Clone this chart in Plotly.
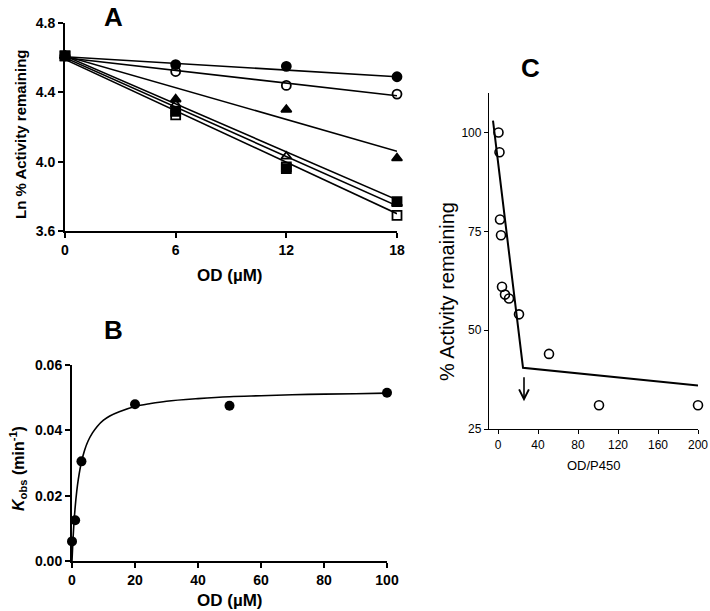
import plotly.graph_objects as go

W, H = 710, 611

# ---------------- Panel A data ----------------
a_x = [0, 6, 12, 18]
a_filled_circle = [4.61, 4.56, 4.55, 4.49]
a_open_circle = [4.61, 4.52, 4.44, 4.39]
a_filled_tri = [4.61, 4.36, 4.30, 4.02]
a_open_tri = [4.61, 4.33, 4.03, 3.76]
a_filled_sq = [4.61, 4.29, 3.96, 3.77]
a_open_sq = [4.61, 4.27, 3.97, 3.69]

a_fit_x = [0, 18]
a_fit_filled_circle = [4.605, 4.49]
a_fit_open_circle = [4.60, 4.38]
a_fit_filled_tri = [4.61, 4.06]
a_fit_open_tri = [4.61, 3.78]
a_fit_filled_sq = [4.60, 3.745]
a_fit_open_sq = [4.59, 3.70]

a_xticks = [0, 6, 12, 18]
a_yticks = [3.6, 4.0, 4.4, 4.8]

# ---------------- Panel B data ----------------
b_x = [0, 1, 3, 20, 50, 100]
b_y = [0.006, 0.0125, 0.0305, 0.048, 0.0475, 0.0515]
b_curve_x = [0, 0.3, 0.6, 1, 1.5, 2, 3, 4, 5, 6.5, 8, 10, 12, 15, 20, 25, 30, 40, 50, 60, 75, 90, 100]
b_curve_y = [0.0, 0.0063, 0.0113, 0.0164, 0.0213, 0.0250, 0.0303, 0.0339, 0.0365, 0.0392, 0.0412, 0.0431, 0.0444, 0.0457, 0.0473, 0.0482, 0.0489, 0.0497, 0.0503, 0.0506, 0.0510, 0.0512, 0.0514]
b_xticks = [0, 20, 40, 60, 80, 100]
b_yticks = [0.00, 0.02, 0.04, 0.06]

# ---------------- Panel C data ----------------
c_x = [0.5, 1.5, 2, 3, 4, 7, 11, 21, 51, 101, 200]
c_y = [100, 95, 78, 74, 61, 59, 58, 54, 44, 31, 31]
c_line_x = [-5, 25, 200]
c_line_y = [103, 40.5, 36]
c_arrow_x = 26
c_arrow_from = 38.5
c_arrow_to = 32
c_xticks = [0, 40, 80, 120, 160, 200]
c_yticks = [25, 50, 75, 100]

fig = go.Figure()

BOLD = "Liberation Sans, Arial, sans-serif"
NARROW = "Liberation Sans Narrow, Arial Narrow, Liberation Sans, Arial, sans-serif"

# ---- Panel A traces ----
for fy in [a_fit_filled_circle, a_fit_open_circle, a_fit_filled_tri,
           a_fit_open_tri, a_fit_filled_sq, a_fit_open_sq]:
    fig.add_trace(go.Scatter(x=a_fit_x, y=fy, mode="lines", xaxis="x", yaxis="y",
                             line=dict(color="black", width=1.6), showlegend=False,
                             hoverinfo="skip"))

a_series = [
    (a_filled_circle, "circle", "black"),
    (a_open_circle, "circle-open", "black"),
    (a_filled_tri, "triangle-up", "black"),
    (a_open_tri, "triangle-up-open", "black"),
    (a_open_sq, "square-open", "black"),
    (a_filled_sq, "square", "black"),
]
for ys, sym, col in a_series:
    fig.add_trace(go.Scatter(x=a_x, y=ys, mode="markers", xaxis="x", yaxis="y",
                             marker=dict(symbol=sym, size=9, color=col,
                                         line=dict(color="black", width=1.8)),
                             showlegend=False, cliponaxis=False))

# ---- Panel B traces ----
fig.add_trace(go.Scatter(x=b_curve_x, y=b_curve_y, mode="lines", xaxis="x2", yaxis="y2",
                         line=dict(color="black", width=1.6, shape="spline"),
                         showlegend=False))
fig.add_trace(go.Scatter(x=b_x, y=b_y, mode="markers", xaxis="x2", yaxis="y2",
                         marker=dict(symbol="circle", size=10, color="black"),
                         showlegend=False, cliponaxis=False))

# ---- Panel C traces ----
fig.add_trace(go.Scatter(x=c_line_x, y=c_line_y, mode="lines", xaxis="x3", yaxis="y3",
                         line=dict(color="black", width=2), showlegend=False))
fig.add_trace(go.Scatter(x=c_x, y=c_y, mode="markers", xaxis="x3", yaxis="y3",
                         marker=dict(symbol="circle-open", size=9, color="black",
                                     line=dict(color="black", width=1.6)),
                         showlegend=False, cliponaxis=False))

def px(x):
    return x / W

def py(y):
    return 1 - y / H

ab_axis = dict(showline=True, linecolor="black", linewidth=2, ticks="outside",
               ticklen=5, tickwidth=2, tickcolor="black", showgrid=False,
               zeroline=False, mirror=False, automargin=False,
               tickfont=dict(family=BOLD, size=14, color="black", weight="bold"))

c_axis = dict(showline=True, linecolor="black", linewidth=1.3, ticks="outside",
              ticklen=4, tickwidth=1.2, tickcolor="black", showgrid=False,
              zeroline=False, automargin=False,
              tickfont=dict(family=NARROW, size=12, color="black"))

fig.update_layout(
    width=W, height=H,
    margin=dict(l=0, r=0, t=0, b=0, pad=0),
    paper_bgcolor="white", plot_bgcolor="white",
    xaxis=dict(ab_axis, domain=[px(65), px(397)], range=[0, 18], tickvals=a_xticks,
               anchor="y"),
    yaxis=dict(ab_axis, domain=[py(231), py(23)], range=[3.6, 4.8], tickvals=a_yticks,
               tickformat=".1f", anchor="x"),
    xaxis2=dict(ab_axis, domain=[px(72), px(387)], range=[0, 100], tickvals=b_xticks,
                anchor="y2"),
    yaxis2=dict(ab_axis, domain=[py(561), py(365)], range=[0, 0.06], tickvals=b_yticks,
                tickformat=".2f", anchor="x2"),
    xaxis3=dict(c_axis, domain=[px(489), px(698)], range=[-9, 200],
                tickvals=c_xticks, anchor="y3"),
    yaxis3=dict(c_axis, domain=[py(429), py(93)], range=[25, 110],
                tickvals=c_yticks, anchor="x3"),
)

ann = []
def label(text, x, y, size, bold=True, angle=0, family=BOLD):
    ann.append(dict(text=text, x=px(x), y=py(y), xref="paper", yref="paper",
                    showarrow=False, textangle=angle, xanchor="center", yanchor="middle",
                    font=dict(family=family, size=size, color="black",
                              weight="bold" if bold else "normal")))

label("A", 113, 17, 26)
label("B", 113, 330, 26)
label("C", 530, 68, 26)
label("Ln % Activity remaining", 20, 135, 15, angle=-90)
label("OD (µM)", 230, 275, 17)
label("<i>K</i><sub>obs</sub> (min<sup>-1</sup>)", 18, 469, 16, angle=-90)
label("OD (µM)", 230, 600, 17)
label("% Activity remaining", 447, 292, 20, bold=False, angle=-90)
label("OD/P450", 593, 465, 13, bold=False, family=NARROW)

ann.append(dict(x=c_arrow_x, y=c_arrow_to, ax=c_arrow_x, ay=c_arrow_from,
                xref="x3", yref="y3", axref="x3", ayref="y3", text="",
                showarrow=True, arrowhead=5, arrowsize=1.2, arrowwidth=1.6,
                arrowcolor="black"))

fig.update_layout(annotations=ann)

fig.write_html("out.html", config={"displayModeBar": False},
               post_script="document.body.style.margin='0';document.body.style.overflow='hidden';")
